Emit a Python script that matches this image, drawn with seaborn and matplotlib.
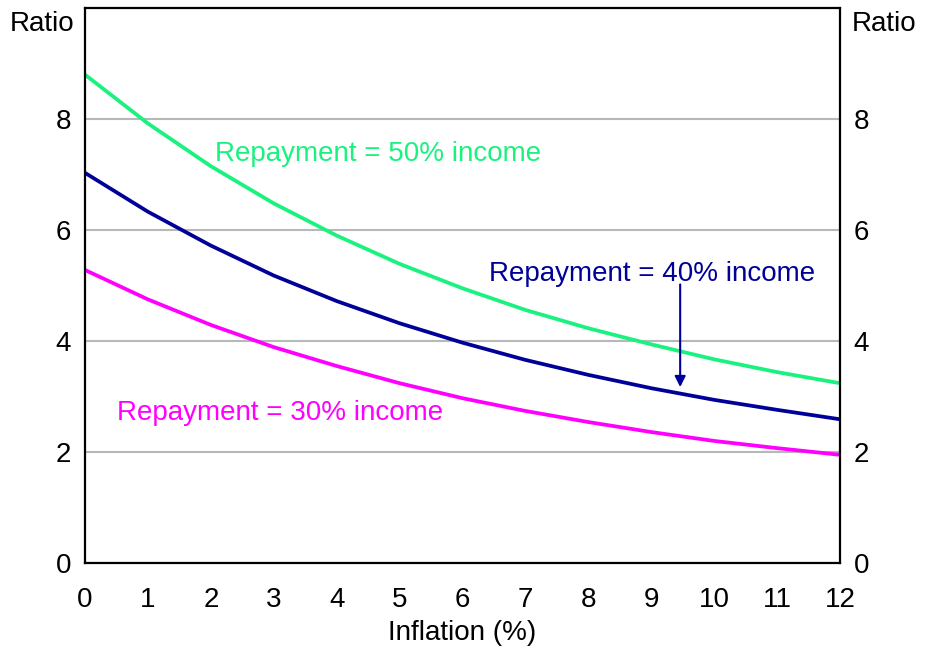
import matplotlib
matplotlib.use('Agg')
import matplotlib.pyplot as plt
import numpy as np
import pandas as pd
import seaborn as sns

sns.set_style('white')
plt.rcParams['font.family'] = ['Liberation Sans', 'DejaVu Sans']
plt.rcParams['font.size'] = 20
plt.rcParams['text.color'] = 'black'
plt.rcParams['axes.labelcolor'] = 'black'
plt.rcParams['xtick.color'] = 'black'
plt.rcParams['ytick.color'] = 'black'

# inflation (%) and price-to-income ratio
inflation = [0, 1, 2, 3, 4, 5, 6, 7, 8, 9, 10, 11, 12]
ratio_50 = [8.80, 7.92, 7.15, 6.48, 5.90, 5.39, 4.95, 4.56, 4.23, 3.94, 3.67, 3.44, 3.24]
ratio_40 = [7.03, 6.33, 5.72, 5.18, 4.72, 4.32, 3.97, 3.66, 3.39, 3.15, 2.94, 2.76, 2.59]
ratio_30 = [5.28, 4.75, 4.29, 3.89, 3.55, 3.24, 2.97, 2.74, 2.54, 2.36, 2.20, 2.07, 1.95]
yticks = [0, 2, 4, 6, 8]

green = '#19F27F'
navy = '#000099'
magenta = '#FF00FF'

df = pd.DataFrame({'inflation': inflation * 3,
                   'ratio': ratio_50 + ratio_40 + ratio_30,
                   'series': ['50'] * 13 + ['40'] * 13 + ['30'] * 13})

fig = plt.figure(figsize=(9.26, 6.53), dpi=100)
ax = fig.add_axes([0.0918, 0.1378, 0.8153, 0.8499])

sns.lineplot(data=df, x='inflation', y='ratio', hue='series',
             palette={'50': green, '40': navy, '30': magenta},
             linewidth=2.7, legend=False, ax=ax)

ax.set_xlim(0, 12)
ax.set_ylim(0, 10)
ax.set_xticks(range(0, 13))
ax.set_yticks(yticks)
ax.yaxis.grid(True, color='#B8B8B8', linewidth=1.5)
ax.set_axisbelow(True)
ax.tick_params(axis='x', direction='in', length=7, width=1.5, pad=17)
ax.tick_params(axis='y', length=0, pad=10)
for s in ax.spines.values():
    s.set_color('black')
    s.set_linewidth(1.6)
ax.set_xlabel('Inflation (%)', labelpad=5)
ax.set_ylabel('')

ax2 = ax.twinx()
ax2.set_ylim(0, 10)
ax2.set_yticks(yticks)
ax2.tick_params(axis='y', length=0, pad=10)
for s in ax2.spines.values():
    s.set_visible(False)

fig.text(0.045, 0.964, 'Ratio', ha='center', va='center')
fig.text(0.955, 0.964, 'Ratio', ha='center', va='center')

ax.text(2.07, 7.37, 'Repayment = 50% income', color=green, va='center')
ax.text(6.42, 5.21, 'Repayment = 40% income', color=navy, va='center')
ax.text(0.51, 2.70, 'Repayment = 30% income', color=magenta, va='center')
ax.annotate('', xy=(9.46, 3.17), xytext=(9.46, 5.02),
            arrowprops=dict(arrowstyle='-|>', color=navy, lw=1.5,
                            mutation_scale=16, shrinkA=0, shrinkB=0))

fig.savefig('out.png', dpi=100)
